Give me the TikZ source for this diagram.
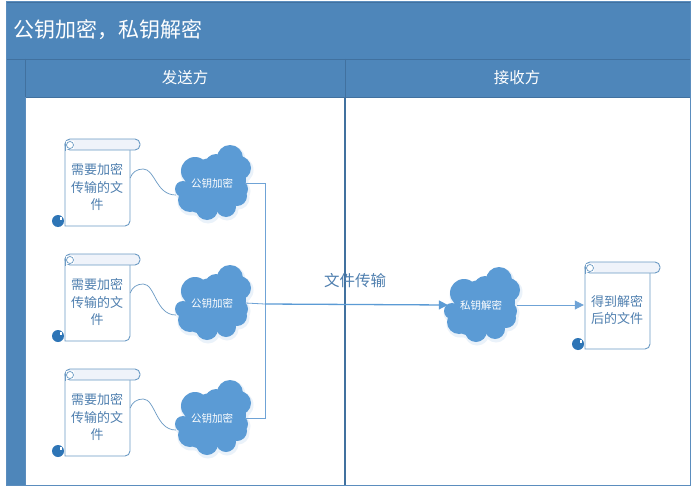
\documentclass[tikz,border=0pt]{standalone}
\usepackage{fontspec}
\setmainfont{Noto Sans CJK SC}
\usetikzlibrary{arrows.meta}
\definecolor{band}{HTML}{4E86BA}
\definecolor{bandline}{HTML}{41719F}
\definecolor{lane}{HTML}{5B8DBE}
\definecolor{cloudblue}{HTML}{5B9BD5}
\definecolor{cloudglow}{HTML}{EAF2FA}
\definecolor{wire}{HTML}{6FA3D6}
\definecolor{scrollline}{HTML}{6B9AC4}
\definecolor{rollfill}{HTML}{EFF3FA}
\definecolor{curl}{HTML}{2E75B6}
\definecolor{bluetext}{HTML}{4F7FAF}
\tikzset{
  x=1pt,y=-1pt,
  bandtext/.style={text=white,inner sep=0pt},
  scrolltext/.style={text=bluetext,font=\fontsize{13}{17.5}\selectfont,align=center,inner sep=0pt,minimum width=66pt},
  cloudtext/.style={text=white,font=\fontsize{10.5}{12}\selectfont,inner sep=0pt,minimum width=66pt,minimum height=14pt},
  wireline/.style={draw=wire,line width=0.8pt},
  feed/.style={draw=scrollline,line width=0.7pt},
  mainline/.style={draw=cloudblue,line width=1.3pt},
  tip/.style={-{Triangle[length=9pt,width=9pt]}},
}
% #1 x, #2 y of the cloud's centre
\newcommand{\cloudlumps}{18/-25/13,4/-18/11,-17/-12/14,27/-15/12,27/6/9,25/13/10,14/24/10,-5/26/11,-22/17/12,-29/6/8,0/2/27,-13/16/14,14/-3/20}
\newcommand{\cloudshape}[2]{%
  \begin{scope}[shift={(#1,#2)}]
    \foreach \cx/\cy/\cr in \cloudlumps{
      \fill[cloudglow] (\cx+1,\cy+2) circle (\cr+1.5);
    }
    \foreach \cx/\cy/\cr in \cloudlumps{
      \fill[cloudblue] (\cx,\cy) circle (\cr);
    }
  \end{scope}}
% #1 x, #2 y of the scroll's top left corner
\newcommand{\scrollshape}[2]{%
  \begin{scope}[shift={(#1,#2)}]
    \fill[curl] (-6,82) circle (6);
    \fill[white] (-4.5,78) rectangle (-2,81);
    \path[draw=scrollline,line width=0.9pt,fill=white]
      (1,5) -- (1,87) [rounded corners=5pt] -- (66,87) -- (66,8) [sharp corners] -- (66,5) -- cycle;
    \path[draw=scrollline,line width=0.9pt,fill=rollfill,rounded corners=5pt]
      (1,0) rectangle (76,11);
    \fill[white] (2,2) rectangle (10,10);
    \draw[scrollline,line width=0.7pt] (6,6) circle (3.5);
    \draw[scrollline,line width=0.9pt] (1,5) -- (1,12);
  \end{scope}}
\begin{document}
\begin{tikzpicture}
\useasboundingbox (0,0) rectangle (695,492);
\fill[white] (0,0) rectangle (695,492);
% title band, lane strip and lane headers
\fill[band] (6,2) rectangle (690,97);
\fill[band] (6,59) rectangle (25,485);
\draw[bandline,line width=0.8pt] (6,2) -- (690,2);
\draw[bandline,line width=0.8pt] (6,59) -- (690,59);
\draw[bandline,line width=0.8pt] (25,59) -- (25,97);
\draw[bandline,line width=0.8pt] (345,59) -- (345,97);
\draw[bandline,line width=0.8pt] (25,97) -- (690,97);
\draw[lane,line width=1pt] (6,2) rectangle (690,485);
\draw[lane,line width=1pt] (25,97) -- (25,485);
\draw[bandline,line width=1.2pt] (345,97) -- (345,485);
\node[bandtext,font=\fontsize{21}{26}\selectfont,anchor=west] (title) at (13,30) {公钥加密，私钥解密};
\node[bandtext,font=\fontsize{15.5}{18}\selectfont] (sender) at (185,78) {发送方};
\node[bandtext,font=\fontsize{15.5}{18}\selectfont] (receiver) at (517,78) {接收方};
% shapes
\scrollshape{64}{139}
\scrollshape{64}{254}
\scrollshape{64}{369}
\scrollshape{584}{262}
\cloudshape{212}{183}
\cloudshape{212}{303}
\cloudshape{212}{418}
\cloudshape{481}{305}
% named nodes
\node[scrolltext] (s1) at (97,187) {需要加密\\传输的文\\件};
\node[scrolltext] (s2) at (97,302) {需要加密\\传输的文\\件};
\node[scrolltext] (s3) at (97,417) {需要加密\\传输的文\\件};
\node[scrolltext] (s4) at (617,310) {得到解密\\后的文件};
\node[cloudtext] (c1) at (212,183) {公钥加密};
\node[cloudtext] (c2) at (212,303) {公钥加密};
\node[cloudtext] (c3) at (212,418) {公钥加密};
\node[cloudtext] (c4) at (481,305) {私钥解密};
\node[text=bluetext,font=\fontsize{15.5}{18}\selectfont,inner sep=0pt] (label) at (355,281) {文件传输};
\coordinate (j) at (265,304);
% connectors
\foreach \a/\b in {s1/c1,s2/c2,s3/c3}{
  \draw[feed] ([yshift=9pt]\a.east) .. controls +(2,-6) and +(-6,0) .. ++(13,-9)
    .. controls +(12,0) and +(-20,0) .. ([xshift=-3pt,yshift=-12pt]\b.west);
}
\draw[wireline] (c1.east) -| (j);
\draw[wireline] (c3.east) -| (j);
\draw[wireline] (c2.east) -- (j);
\draw[mainline,tip] (j) -- (c4.west);
\draw[wireline,tip] ([xshift=3pt]c4.east) -- ([yshift=5pt]s4.west);
\end{tikzpicture}
\end{document}
